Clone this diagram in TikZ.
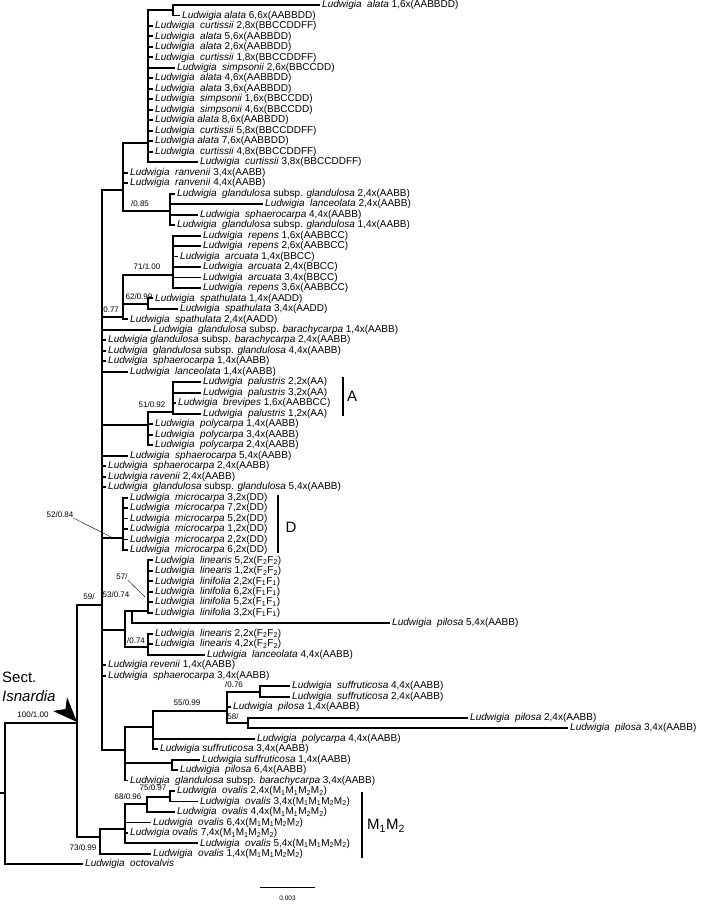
\documentclass[tikz,border=0pt]{standalone}
\usepackage{fontspec}
\setmainfont{Liberation Sans}
\newcommand\Lw{\textit{Ludwigia}\ \ }
\newcommand\Ls{\textit{Ludwigia} }
\newcommand\Ff[1]{(F\textsubscript{#1}F\textsubscript{#1})}
\newcommand\MM{(M\textsubscript{1}M\textsubscript{1}M\textsubscript{2}M\textsubscript{2})}
\newcommand\tleaf[4]{\pgfmathsetmacro\yy{5+(#1-1)*10.48}\node[lab] (L#1) at (#2,\yy) {#4};\draw[br] (#3) |- ([xshift=-3pt]L#1.west);}
\begin{document}
\begin{tikzpicture}[x=1pt,y=-1pt,
  br/.style={line width=1.9pt,line cap=rect},
  lab/.style={anchor=west,inner sep=0pt,font=\fontsize{10}{12}\selectfont,text height=7.2pt,text depth=2pt},
  sup/.style={inner sep=0pt,font=\fontsize{8}{9}\selectfont},
  big/.style={inner sep=0pt,font=\fontsize{15}{17}\selectfont},
  bar/.style={line width=2.8pt}]
\useasboundingbox (0,0) rectangle (708,908);
% internal nodes
\coordinate (R0) at (0,793);
\coordinate (R) at (5,793);
\coordinate (I) at (77,723);
\coordinate (T) at (102,605);
\coordinate (M) at (100,837);
\coordinate (C1) at (123,190);
\coordinate (C2) at (148,143);
\coordinate (C3) at (173,10);
\coordinate (C4) at (170,211);
\coordinate (C5) at (123,317);
\coordinate (C6) at (173,275);
\coordinate (C7) at (148,304);
\coordinate (C8) at (148,425);
\coordinate (C9) at (173,412);
\coordinate (C10) at (123,538);
\coordinate (C11) at (125,630);
\coordinate (C12) at (132,611);
\coordinate (C13) at (148,611);
\coordinate (C14) at (148,647);
\coordinate (C15) at (125,750);
\coordinate (C16) at (153,727);
\coordinate (C17) at (227,711);
\coordinate (C18) at (260,692);
\coordinate (C19) at (248,723);
\coordinate (C20) at (172,763);
\coordinate (M1) at (125,829);
\coordinate (M2) at (147,804);
\coordinate (M3) at (170,797);
% internal branches
\draw[br] (R0) -- (R);
\draw[br] (R) |- (I);
\draw[br] (I) |- (T);
\draw[br] (I) |- (M);
\draw[br] (T) |- (C1);
\draw[br] (C1) |- (C2);
\draw[br] (C2) |- (C3);
\draw[br] (C1) |- (C4);
\draw[br] (T) |- (C5);
\draw[br] (C5) |- (C6);
\draw[br] (C5) |- (C7);
\draw[br] (T) |- (C8);
\draw[br] (C8) |- (C9);
\draw[br] (T) |- (C10);
\draw[br] (T) |- (C11);
\draw[br] (C11) |- (C12);
\draw[br] (C12) -- (C13);
\draw[br] (C11) |- (C14);
\draw[br] (T) |- (C15);
\draw[br] (C15) |- (C16);
\draw[br] (C16) |- (C17);
\draw[br] (C17) |- (C18);
\draw[br] (C17) |- (C19);
\draw[br] (C15) |- (C20);
\draw[br] (M) |- (M1);
\draw[br] (M1) |- (M2);
\draw[br] (M2) |- (M3);
% leaves
\tleaf{1}{322}{C3}{\Lw\textit{alata} 1,6x(AABBDD)}
\tleaf{2}{182}{C3}{\Ls\textit{alata} 6,6x(AABBDD)}
\tleaf{3}{155}{C2}{\Lw\textit{curtissii} 2,8x(BBCCDDFF)}
\tleaf{4}{155}{C2}{\Lw\textit{alata} 5,6x(AABBDD)}
\tleaf{5}{155}{C2}{\Lw\textit{alata} 2,6x(AABBDD)}
\tleaf{6}{155}{C2}{\Lw\textit{curtissii} 1,8x(BBCCDDFF)}
\tleaf{7}{177}{C2}{\Lw\textit{simpsonii} 2,6x(BBCCDD)}
\tleaf{8}{155}{C2}{\Lw\textit{alata} 4,6x(AABBDD)}
\tleaf{9}{155}{C2}{\Lw\textit{alata} 3,6x(AABBDD)}
\tleaf{10}{155}{C2}{\Lw\textit{simpsonii} 1,6x(BBCCDD)}
\tleaf{11}{155}{C2}{\Lw\textit{simpsonii} 4,6x(BBCCDD)}
\tleaf{12}{155}{C2}{\Ls\textit{alata} 8,6x(AABBDD)}
\tleaf{13}{155}{C2}{\Lw\textit{curtissii} 5,8x(BBCCDDFF)}
\tleaf{14}{155}{C2}{\Ls\textit{alata} 7,6x(AABBDD)}
\tleaf{15}{155}{C2}{\Lw\textit{curtissii} 4,8x(BBCCDDFF)}
\tleaf{16}{200}{C2}{\Lw\textit{curtissii} 3,8x(BBCCDDFF)}
\tleaf{17}{130}{C1}{\Lw\textit{ranvenii} 3,4x(AABB)}
\tleaf{18}{130}{C1}{\Lw\textit{ranvenii} 4,4x(AABB)}
\tleaf{19}{177}{C4}{\Lw\textit{glandulosa} subsp. \textit{glandulosa} 2,4x(AABB)}
\tleaf{20}{265}{C4}{\Lw\textit{lanceolata} 2,4x(AABB)}
\tleaf{21}{200}{C4}{\Lw\textit{sphaerocarpa} 4,4x(AABB)}
\tleaf{22}{177}{C4}{\Lw\textit{glandulosa} subsp. \textit{glandulosa} 1,4x(AABB)}
\tleaf{23}{203}{C6}{\Lw\textit{repens} 1,6x(AABBCC)}
\tleaf{24}{203}{C6}{\Lw\textit{repens} 2,6x(AABBCC)}
\tleaf{25}{180}{C6}{\Lw\textit{arcuata} 1,4x(BBCC)}
\tleaf{26}{203}{C6}{\Lw\textit{arcuata} 2,4x(BBCC)}
\tleaf{27}{203}{C6}{\Lw\textit{arcuata} 3,4x(BBCC)}
\tleaf{28}{203}{C6}{\Lw\textit{repens} 3,6x(AABBCC)}
\tleaf{29}{155}{C7}{\Lw\textit{spathulata} 1,4x(AADD)}
\tleaf{30}{180}{C7}{\Lw\textit{spathulata} 3,4x(AADD)}
\tleaf{31}{130}{C5}{\Lw\textit{spathulata} 2,4x(AADD)}
\tleaf{32}{153}{T}{\Lw\textit{glandulosa} subsp. \textit{barachycarpa} 1,4x(AABB)}
\tleaf{33}{108}{T}{\Ls\textit{glandulosa} subsp. \textit{barachycarpa} 2,4x(AABB)}
\tleaf{34}{108}{T}{\Lw\textit{glandulosa} subsp. \textit{glandulosa} 4,4x(AABB)}
\tleaf{35}{108}{T}{\Lw\textit{sphaerocarpa} 1,4x(AABB)}
\tleaf{36}{130}{T}{\Lw\textit{lanceolata} 1,4x(AABB)}
\tleaf{37}{203}{C9}{\Lw\textit{palustris} 2,2x(AA)}
\tleaf{38}{203}{C9}{\Lw\textit{palustris} 3,2x(AA)}
\tleaf{39}{178}{C9}{\Lw\textit{brevipes} 1,6x(AABBCC)}
\tleaf{40}{203}{C9}{\Lw\textit{palustris} 1,2x(AA)}
\tleaf{41}{155}{C8}{\Lw\textit{polycarpa} 1,4x(AABB)}
\tleaf{42}{155}{C8}{\Lw\textit{polycarpa} 3,4x(AABB)}
\tleaf{43}{155}{C8}{\Lw\textit{polycarpa} 2,4x(AABB)}
\tleaf{44}{130}{T}{\Lw\textit{sphaerocarpa} 5,4x(AABB)}
\tleaf{45}{108}{T}{\Lw\textit{sphaerocarpa} 2,4x(AABB)}
\tleaf{46}{108}{T}{\Ls\textit{ravenii} 2,4x(AABB)}
\tleaf{47}{108}{T}{\Lw\textit{glandulosa} subsp. \textit{glandulosa} 5,4x(AABB)}
\tleaf{48}{130}{C10}{\Lw\textit{microcarpa} 3,2x(DD)}
\tleaf{49}{130}{C10}{\Lw\textit{microcarpa} 7,2x(DD)}
\tleaf{50}{130}{C10}{\Lw\textit{microcarpa} 5,2x(DD)}
\tleaf{51}{130}{C10}{\Lw\textit{microcarpa} 1,2x(DD)}
\tleaf{52}{130}{C10}{\Lw\textit{microcarpa} 2,2x(DD)}
\tleaf{53}{130}{C10}{\Lw\textit{microcarpa} 6,2x(DD)}
\tleaf{54}{155}{C13}{\Lw\textit{linearis} 5,2x\Ff{2}}
\tleaf{55}{155}{C13}{\Lw\textit{linearis} 1,2x\Ff{2}}
\tleaf{56}{155}{C13}{\Lw\textit{linifolia} 2,2x\Ff{1}}
\tleaf{57}{155}{C13}{\Lw\textit{linifolia} 6,2x\Ff{1}}
\tleaf{58}{155}{C13}{\Lw\textit{linifolia} 5,2x\Ff{1}}
\tleaf{59}{155}{C13}{\Lw\textit{linifolia} 3,2x\Ff{1}}
\tleaf{60}{392}{C12}{\Lw\textit{pilosa} 5,4x(AABB)}
\tleaf{61}{155}{C14}{\Lw\textit{linearis} 2,2x\Ff{2}}
\tleaf{62}{155}{C14}{\Lw\textit{linearis} 4,2x\Ff{2}}
\tleaf{63}{207}{C14}{\Lw\textit{lanceolata} 4,4x(AABB)}
\tleaf{64}{108}{T}{\Ls\textit{revenii} 1,4x(AABB)}
\tleaf{65}{108}{T}{\Lw\textit{sphaerocarpa} 3,4x(AABB)}
\tleaf{66}{292}{C18}{\Lw\textit{suffruticosa} 4,4x(AABB)}
\tleaf{67}{292}{C18}{\Lw\textit{suffruticosa} 2,4x(AABB)}
\tleaf{68}{233}{C17}{\Lw\textit{pilosa} 1,4x(AABB)}
\tleaf{69}{470}{C19}{\Lw\textit{pilosa} 2,4x(AABB)}
\tleaf{70}{570}{C19}{\Lw\textit{pilosa} 3,4x(AABB)}
\tleaf{71}{257}{C16}{\Lw\textit{polycarpa} 4,4x(AABB)}
\tleaf{72}{160}{C16}{\Ls\textit{suffruticosa} 3,4x(AABB)}
\tleaf{73}{202}{C20}{\Ls\textit{suffruticosa} 1,4x(AABB)}
\tleaf{74}{180}{C20}{\Lw\textit{pilosa} 6,4x(AABB)}
\tleaf{75}{130}{C15}{\Lw\textit{glandulosa} subsp. \textit{barachycarpa} 3,4x(AABB)}
\tleaf{76}{177}{M3}{\Lw\textit{ovalis} 2,4x\MM}
\tleaf{77}{200}{M3}{\Lw\textit{ovalis} 3,4x\MM}
\tleaf{78}{177}{M2}{\Lw\textit{ovalis} 4,4x\MM}
\tleaf{79}{153}{M1}{\Lw\textit{ovalis} 6,4x\MM}
\tleaf{80}{130}{M1}{\Ls\textit{ovalis} 7,4x\MM}
\tleaf{81}{200}{M1}{\Lw\textit{ovalis} 5,4x\MM}
\tleaf{82}{153}{M}{\Lw\textit{ovalis} 1,4x\MM}
\tleaf{83}{85}{R}{\Lw\textit{octovalvis}}
% support values
\node[sup] (s1) at (33,715) {100/1.00};
\node[sup] (s2) at (83,848) {73/0.99};
\node[sup] (s3) at (128,797) {68/0.96};
\node[sup] (s4) at (153,788) {75/0.97};
\node[sup] (s5) at (187,703) {55/0.99};
\node[sup] (s6) at (234,685) {/0.76};
\node[sup] (s7) at (233,717) {58/};
\node[sup] (s8) at (136,641) {/0.74};
\node[sup] (s9) at (116,595) {53/0.74};
\node[sup] (s10) at (122,577) {57/};
\node[sup] (s11) at (89,597) {59/};
\node[sup] (s12) at (60,515) {52/0.84};
\node[sup] (s13) at (152,405) {51/0.92};
\node[sup] (s14) at (147,267) {71/1.00};
\node[sup] (s15) at (139,297) {62/0.99};
\node[sup] (s16) at (110,310) {/0.77};
\node[sup] (s17) at (140,204) {/0.85};
\coordinate (p52) at (113,538);
\coordinate (p57) at (145,597);
\draw[line width=0.4pt] (s12.south east) -- (p52);
\draw[line width=0.4pt] (s10.south east) -- (p57);
% group bars
\coordinate (Atop) at (343,377); \coordinate (Abot) at (343,416);
\draw[bar] (Atop) -- (Abot);
\node[big] (A) at (352,396) {A};
\coordinate (Dtop) at (278,495); \coordinate (Dbot) at (278,553);
\draw[bar] (Dtop) -- (Dbot);
\node[big] (D) at (291,527) {D};
\coordinate (Mtop) at (362,792); \coordinate (Mbot) at (362,858);
\draw[bar] (Mtop) -- (Mbot);
\node[big,anchor=west] (MM) at (367,826) {M\textsubscript{1}M\textsubscript{2}};
% section label and arrow
\node[big,anchor=west] (sect) at (2,677) {Sect.};
\node[big,anchor=west] (isn) at (2,696) {\textit{Isnardia}};
\fill (77,722) -- (67,697) -- (65.5,709) -- (53,711) -- cycle;
% scale bar
\coordinate (sb1) at (260,887); \coordinate (sb2) at (315,887);
\draw[line width=0.6pt] (sb1) -- (sb2);
\node[inner sep=0pt,font=\fontsize{6.5}{7}\selectfont] (sbl) at (287.5,898) {0.003};
\end{tikzpicture}
\end{document}
